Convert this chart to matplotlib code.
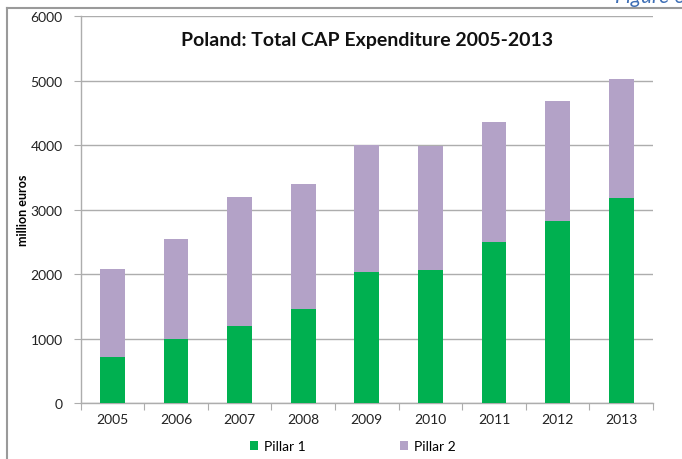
import numpy as np
import matplotlib
matplotlib.use("Agg")
import matplotlib.pyplot as plt
from matplotlib.lines import Line2D

plt.rcParams['font.family'] = ['Lato', 'DejaVu Sans']

# data (million euros)
years = ['2005', '2006', '2007', '2008', '2009', '2010', '2011', '2012', '2013']
pillar1 = [723, 990, 1200, 1460, 2035, 2060, 2500, 2830, 3175]
pillar2 = [1352, 1555, 2000, 1930, 1968, 1925, 1860, 1850, 1845]
yticks = [0, 1000, 2000, 3000, 4000, 5000, 6000]

green = '#00B050'
purple = '#B3A2C7'
grid_col = '#ADADAD'

fig = plt.figure(figsize=(6.82, 4.6), dpi=100)
ax = fig.add_axes([0.1183, 0.1211, 0.8392, 0.8419])

x = np.arange(len(years))
ax.bar(x, pillar1, width=0.39, color=green, label='Pillar 1', zorder=3)
ax.bar(x, pillar2, width=0.39, bottom=pillar1, color=purple, label='Pillar 2', zorder=3)

ax.set_xlim(-0.5, len(years) - 0.5)
ax.set_ylim(0, 6000)
ax.set_yticks(yticks)
ax.set_yticklabels([str(v) for v in yticks], fontsize=10, color='#222222')
ax.yaxis.grid(True, color=grid_col, linewidth=1, zorder=0)

# category boundaries carry the tick marks, labels sit at the centres
ax.set_xticks(np.arange(len(years) + 1) - 0.5)
ax.set_xticklabels([])
ax.set_xticks(x, minor=True)
ax.set_xticklabels(years, minor=True, fontsize=10, color='#222222')
ax.tick_params(axis='x', which='major', length=5, color=grid_col, direction='out')
ax.tick_params(axis='x', which='minor', length=0, pad=7)
ax.tick_params(axis='y', length=5, color=grid_col, pad=8)

for s in ['top', 'right']:
    ax.spines[s].set_visible(False)
for s in ['left', 'bottom']:
    ax.spines[s].set_color(grid_col)
    ax.spines[s].set_linewidth(1)

ax.set_ylabel('million euros', fontsize=9, fontweight='bold', labelpad=1)
ax.text(0.5, 0.94, 'Poland: Total CAP Expenditure 2005-2013', transform=ax.transAxes,
        ha='center', va='center', fontsize=14, fontweight='bold', color='#111111')

fig.legend(loc='center', bbox_to_anchor=(0.517, 0.028), ncol=2, frameon=False,
           fontsize=10, handlelength=0.6, handleheight=0.6, handletextpad=0.4,
           columnspacing=6.8)

# outer frame of the screenshot and the clipped caption
fig.add_artist(Line2D([7 / 682, 7 / 682], [0, 1 - 9 / 460], transform=fig.transFigure,
                      color='#9A9A9A', linewidth=1.5))
fig.add_artist(Line2D([7 / 682, 1], [1 - 9 / 460, 1 - 9 / 460], transform=fig.transFigure,
                      color='#9A9A9A', linewidth=1.5))
fig.text(0.902, 1 - 3 / 460, 'Figure 6', ha='left', va='baseline', fontsize=15,
         style='italic', color='#3F6FB5')

fig.savefig('out.png', dpi=100)
